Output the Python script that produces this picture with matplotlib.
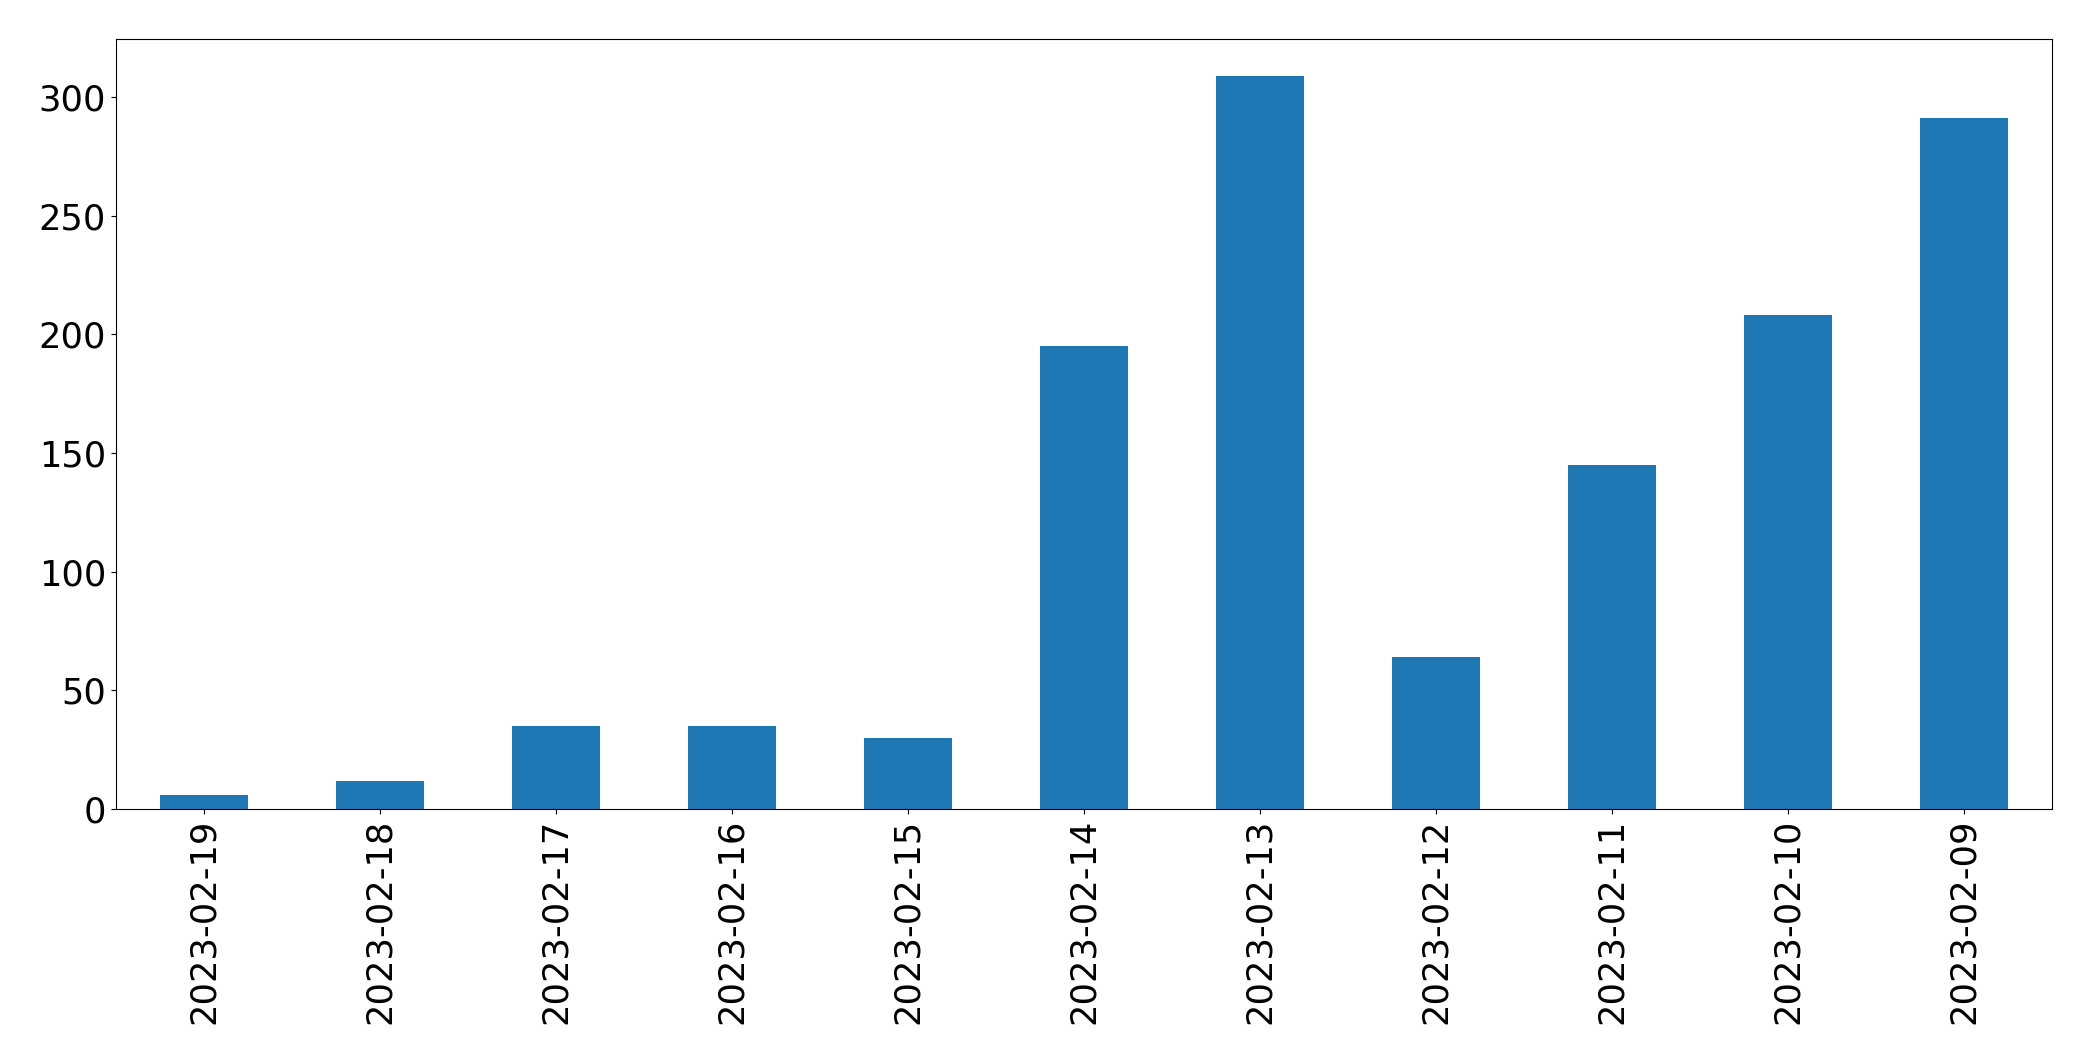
import matplotlib
matplotlib.use("Agg")
import matplotlib.pyplot as plt
import numpy as np

dates = ["2023-02-19", "2023-02-18", "2023-02-17", "2023-02-16", "2023-02-15",
         "2023-02-14", "2023-02-13", "2023-02-12", "2023-02-11", "2023-02-10",
         "2023-02-09"]
counts = [6, 12, 35, 35, 30, 195, 309, 64, 145, 208, 291]

fig = plt.figure(figsize=(20.93, 10.61), dpi=100)
ax = fig.add_axes([0.0554, 0.2375, 0.925, 0.7257])
x = np.arange(len(dates))
ax.bar(x, counts, width=0.5, color="#1f77b4")
ax.set_xlim(-0.5, len(dates) - 0.5)
ax.set_xticks(x)
ax.set_xticklabels(dates, rotation=90)
ax.tick_params(axis="both", labelsize=25.4)
for s in ax.spines.values():
    s.set_color("black")
fig.savefig("out.png", dpi=100)
